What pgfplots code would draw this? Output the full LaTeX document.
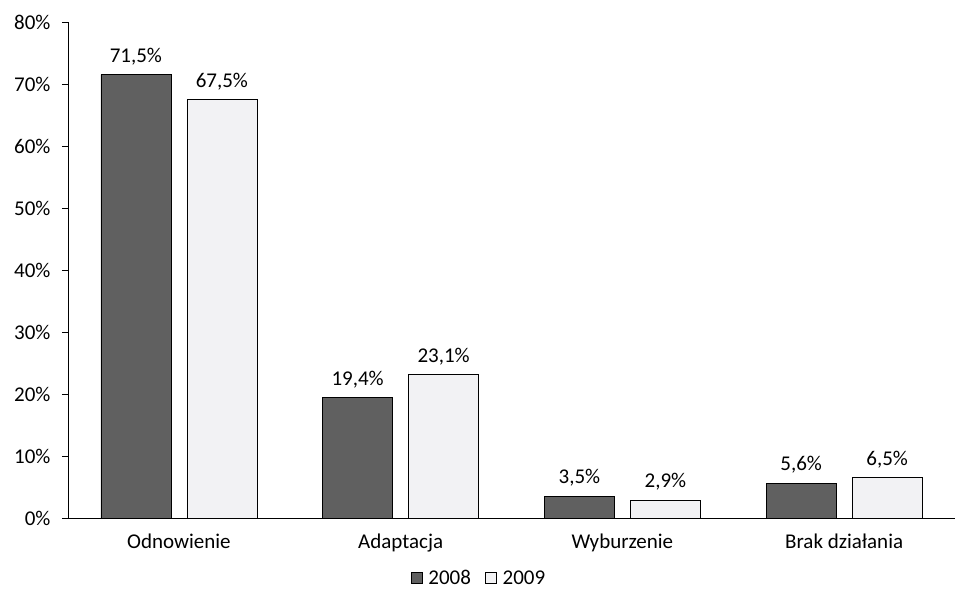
\documentclass[border=0pt]{standalone}
\usepackage{pgfplots}
\pgfplotsset{compat=1.18}
\usepackage{fontspec}
\setmainfont{Carlito}
\definecolor{darkbar}{HTML}{606060}
\definecolor{lightbar}{HTML}{F2F2F4}
\begin{document}
\begin{tikzpicture}[font=\fontsize{21}{25}\selectfont]
\path[use as bounding box] (-68pt,-74pt) rectangle (890pt,518pt);
\begin{axis}[
  at={(0,0)}, anchor=south west,
  scale only axis, width=887pt, height=496pt,
  ybar, bar width=70pt,
  xmin=-0.5, xmax=3.5, ymin=0, ymax=80,
  axis x line*=bottom, axis y line*=left,
  axis line style={black, line width=0.9pt},
  xtick={0,1,2,3}, xticklabels={Odnowienie,Adaptacja,Wyburzenie,Brak działania},
  major x tick style={draw=none},
  extra x ticks={-0.5,0.5,1.5,2.5,3.5}, extra x tick labels={},
  extra x tick style={major tick length=6pt, tick style={black, line width=0.9pt}, tick align=outside, grid=none},
  ytick={0,10,...,80},
  yticklabels={0\%,10\%,20\%,30\%,40\%,50\%,60\%,70\%,80\%},
  tick align=outside, major tick length=6pt,
  ytick style={black, line width=0.9pt},
  xticklabel style={yshift=-6pt},
  yticklabel style={xshift=-8pt},
  nodes near coords={\pgfmathprintnumber[fixed,precision=1,fixed zerofill,use comma]{\pgfplotspointmeta}\%},
  /pgf/number format/assume math mode=true,
  nodes near coords style={yshift=6pt, black},
  legend style={at={(411pt,-60pt)}, anchor=center, draw=none, fill=none, legend columns=2,
    /tikz/every odd column/.append style={column sep=4pt},
    /tikz/every even column/.append style={column sep=12pt}},
  legend image code/.code={\draw[#1, line width=0.6pt] (0pt,-5pt) rectangle (11pt,6pt);},
]
\addplot[fill=darkbar, draw=black, line width=0.6pt, bar shift=-43pt] coordinates {(0,71.5) (1,19.4) (2,3.5) (3,5.6)};
\addplot[fill=lightbar, draw=black, line width=0.6pt, bar shift=43pt] coordinates {(0,67.5) (1,23.1) (2,2.9) (3,6.5)};
\legend{2008,2009}
\end{axis}
\end{tikzpicture}
\end{document}
